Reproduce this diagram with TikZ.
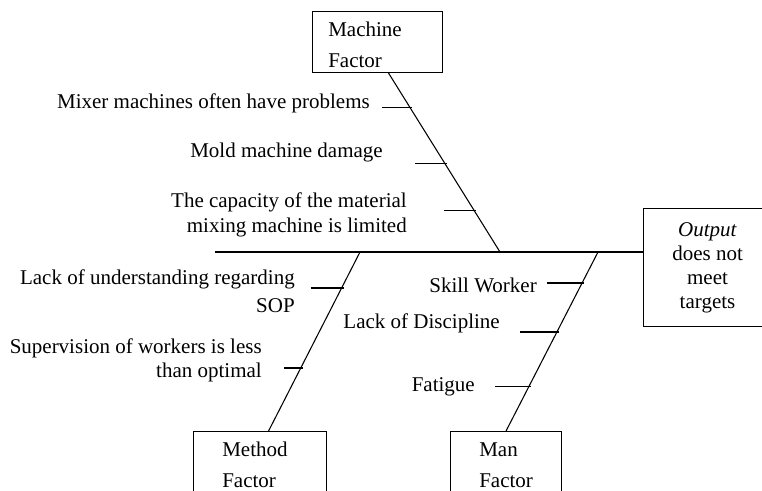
\documentclass[tikz,border=0pt]{standalone}
\usepackage{fontspec}
\setmainfont{Liberation Serif}
\usetikzlibrary{calc,positioning}
\tikzset{
  factorbox/.style={draw, line width=0.8pt, anchor=north west, inner sep=0pt},
  effectbox/.style={factorbox, align=center, font=\fontsize{15.75}{18}\selectfont},
  boxtext/.style={anchor=base west, align=left, inner sep=0pt, font=\fontsize{15.75}{23.25}\selectfont},
  causetext/.style={anchor=base east, align=right, inner sep=0pt, font=\fontsize{15.75}{18.4}\selectfont},
  spine/.style={line width=0.8pt},
  bone/.style={line width=0.8pt},
  rib/.style={line width=0.8pt, shorten >=-1.5pt}
}
\begin{document}
\begin{tikzpicture}[x=0.75pt, y=-0.75pt]
  \clip (0,0) rectangle (762,491);

  \node[factorbox, minimum width=97.5pt, minimum height=45.75pt] (machine) at (312,11) {};
  \node[factorbox, minimum width=99.75pt, minimum height=51.75pt] (method) at (193,431) {};
  \node[factorbox, minimum width=83.25pt, minimum height=51.75pt] (man) at (450,431) {};
  \node[effectbox, minimum width=96pt, minimum height=88.5pt] (output) at (643,208) {\textit{Output}\\does not\\meet\\targets};

  \node[boxtext] (machinetext) at (328,68) {Machine\\Factor};
  \node[boxtext] (methodtext) at (222,487) {Method\\Factor};
  \node[boxtext] (mantext) at (479,487) {Man\\Factor};

  \coordinate (tail) at (215,252);
  \coordinate (mjoin) at (500,252);
  \coordinate (ejoin) at (360,252);
  \coordinate (njoin) at (598,252);
  \coordinate (mtop) at ([xshift=8.25pt]machine.south);
  \coordinate (etop) at ([xshift=6.4pt]method.north);
  \coordinate (ntop) at (man.north);

  \draw[spine] (tail) -- (tail -| output.west);
  \draw[bone] (mtop) -- (mjoin);
  \draw[bone] (ejoin) -- (etop);
  \draw[bone] (njoin) -- (ntop);

  \coordinate (m1) at ($(mtop)!0.194!(mjoin)$);
  \coordinate (m2) at ($(mtop)!0.506!(mjoin)$);
  \coordinate (m3) at ($(mtop)!0.767!(mjoin)$);
  \coordinate (e1) at ($(ejoin)!0.201!(etop)$);
  \coordinate (e2) at ($(ejoin)!0.648!(etop)$);
  \coordinate (n1) at ($(njoin)!0.173!(ntop)$);
  \coordinate (n2) at ($(njoin)!0.447!(ntop)$);
  \coordinate (n3) at ($(njoin)!0.749!(ntop)$);

  \draw[rib] (m1) ++(-28,0) -- (m1);
  \draw[rib] (m2) ++(-30,0) -- (m2);
  \draw[rib] (m3) ++(-30,0) -- (m3);
  \draw[rib] (e1) ++(-31,0) -- (e1);
  \draw[rib] (e2) ++(-17,0) -- (e2);
  \draw[rib] (n1) ++(-35,0) -- (n1);
  \draw[rib] (n2) ++(-37,0) -- (n2);
  \draw[rib] (n3) ++(-34,0) -- (n3);

  \node[causetext] (mixer) at (370,109) {Mixer machines often have problems};
  \node[causetext] (mold) at (383,158) {Mold machine damage};
  \node[causetext] (capacity) at (407,232.5) {The capacity of the material\\mixing machine is limited};
  \node[causetext, font=\fontsize{15.75}{21}\selectfont] (sop) at (295,312) {Lack of understanding regarding\\SOP};
  \node[causetext, font=\fontsize{15.75}{18}\selectfont] (supervision) at (262,377) {Supervision of workers is less\\than optimal};
  \node[causetext] (skill) at (537,292) {Skill Worker};
  \node[causetext] (discipline) at (500,328) {Lack of Discipline};
  \node[causetext] (fatigue) at (475,391) {Fatigue};
\end{tikzpicture}
\end{document}
